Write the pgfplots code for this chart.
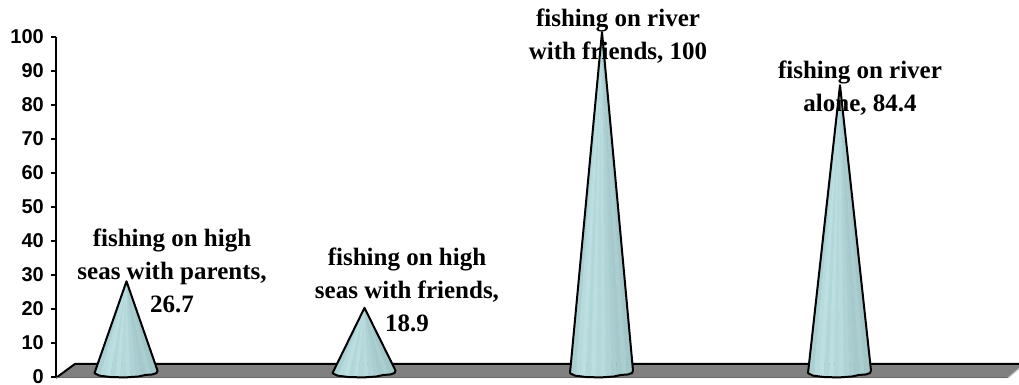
\documentclass[border=0pt]{standalone}
\usepackage{pgfplots}
\usepackage{pgfplotstable}
\pgfplotsset{compat=1.18}
\usepackage{fontspec}
\setmainfont{Liberation Serif}
\newfontfamily\ticksfont{Liberation Sans}

% Facets of a cone, three rows to a triangle: dx is the horizontal offset
% from the centre, f the share of the value, dy the depth offset of the rim.
\pgfplotstableread{
dx f dy c
0 1 0 0.50
-32 0 -0.30 0.50
-26 0 -1.00 0.50
0 1 0 0.80
-26 0 -1.00 0.80
-21 0 -1.25 0.80
0 1 0 0.95
-21 0 -1.25 0.95
-16 0 -1.40 0.95
0 1 0 0.70
-16 0 -1.40 0.70
-11 0 -1.50 0.70
0 1 0 0.90
-11 0 -1.50 0.90
-6 0 -1.50 0.90
0 1 0 0.72
-6 0 -1.50 0.72
-1 0 -1.50 0.72
0 1 0 0.82
-1 0 -1.50 0.82
4 0 -1.50 0.82
0 1 0 0.60
4 0 -1.50 0.60
10 0 -1.40 0.60
0 1 0 0.45
10 0 -1.40 0.45
15 0 -1.10 0.45
0 1 0 0.32
15 0 -1.10 0.32
20 0 -0.85 0.32
0 1 0 0.48
20 0 -0.85 0.48
25 0 -0.70 0.48
0 1 0 0.25
25 0 -0.70 0.25
31 0 0.45 0.25
}\facets
% Outline of a cone in the same form.
\pgfplotstableread{
dx f dy
0 1 0
-32 0 -0.30
-31 0 -0.50
-27 0 -1.05
-15 0 -1.50
0 0 -1.55
12 0 -1.30
19 0 -0.85
26 0 -0.70
30 0 -0.30
31 0 0.45
}\outline
% Floor of the plot area, in pixels across and value units up.
\pgfplotstableread{
x y
56 -0.25
75 3.85
1019 3.85
1019 2.5
1008 -0.25
}\floor
% Draws one cone from its centre and value.
\newcommand{\cone}[2]{%
  \addplot[patch,patch type=triangle,shader=flat,draw=none,
    point meta=explicit,point meta min=0,point meta max=1,
    colormap={ice}{rgb255(0)=(153,190,192) rgb255(1)=(190,225,228)}]
    table[x expr=#1+\thisrow{dx},y expr=1.45+#2*\thisrow{f}+\thisrow{dy},meta=c]{\facets};
  \addplot[draw=black,line width=2pt,line join=round,no marks]
    table[x expr=#1+\thisrow{dx},y expr=1.45+#2*\thisrow{f}+\thisrow{dy}]{\outline} -- cycle;
}

\begin{document}
\begin{tikzpicture}
\useasboundingbox (0,0) rectangle (1019pt,385pt);
\begin{axis}[
  at={(56pt,8pt)},anchor=south west,scale only axis,
  width=963pt,height=340pt,
  xmin=56,xmax=1019,ymin=0,ymax=100,
  clip=false,
  axis x line=none,axis y line=left,
  axis line style={black,line width=2pt,-},
  ytick distance=10,
  tick align=outside,
  major tick length=5pt,
  tick style={black,line width=1.5pt},
  yticklabel style={font=\ticksfont\bfseries\fontsize{20}{22}\selectfont,inner sep=0pt,xshift=-7pt},
  /pgf/number format/assume math mode=true,
]
\addplot[fill=gray,draw=none] table {\floor} -- cycle;
\addplot[draw=black,line width=2pt] coordinates {(56,-0.25) (75,3.85) (1019,3.85)};
\addplot[draw=black!60,line width=1pt] coordinates {(56,-0.25) (1008,-0.25)};
\addplot[draw=black!25,line width=1pt] coordinates {(1008,-0.25) (1019,2.5)};
\cone{126.5}{26.7}
\cone{364.5}{18.9}
\cone{602}{100}
\cone{840}{84.4}
\tikzset{lab/.style={font=\bfseries\fontsize{25}{33}\selectfont,align=center,text=black,inner sep=0pt}}
\node[lab] at (axis cs:172,31.2) {fishing on high\\seas with parents,\\26.7};
\node[lab] at (axis cs:407,25.6) {fishing on high\\seas with friends,\\18.9};
\node[lab] at (axis cs:618,100.2) {fishing on river\\with friends, 100};
\node[lab] at (axis cs:860,84.9) {fishing on river\\alone, 84.4};
\end{axis}
\end{tikzpicture}
\end{document}
